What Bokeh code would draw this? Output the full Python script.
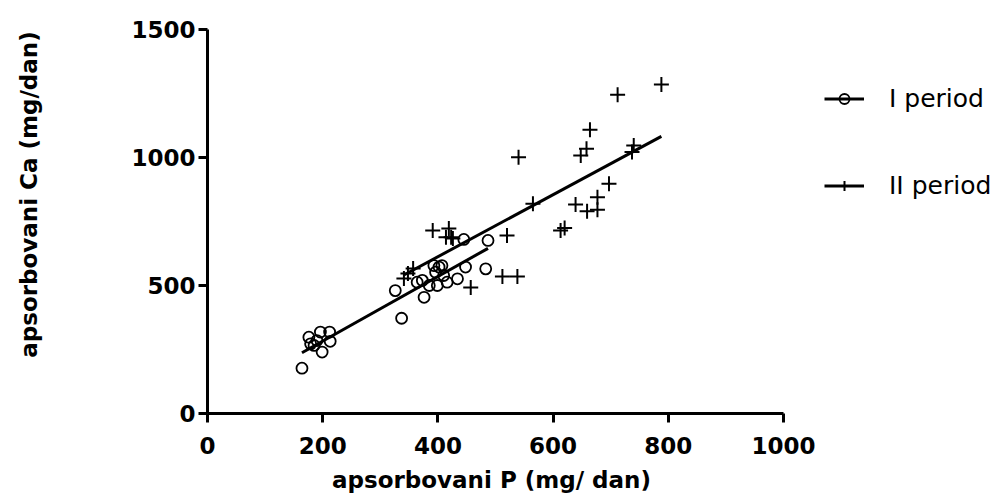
import math
from bokeh.plotting import figure
from bokeh.models import Range1d, Legend, LegendItem, Label, FixedTicker
from bokeh.embed import file_html
from bokeh.resources import INLINE

# Period I (circles)
p1_x = [164, 176, 179, 185, 190, 196, 199, 212, 213,
        326, 337, 364, 373, 376, 385, 393, 396, 399, 402, 407, 410, 416, 434, 445, 448, 483, 487]
p1_y = [177, 298, 272, 266, 285, 318, 240, 318, 282,
        480, 372, 513, 520, 454, 500, 578, 552, 500, 572, 578, 539, 513, 526, 680, 572, 565, 676]

# Period II (crosses)
p2_x = [341, 348, 357, 391, 414, 419, 423, 426, 457, 512, 520, 538, 540, 565, 613, 620,
        639, 648, 658, 659, 664, 677, 677, 697, 712, 737, 740, 788]
p2_y = [527, 547, 566, 715, 688, 723, 688, 684, 492, 535, 695, 535, 1001, 819, 715, 725,
        816, 1008, 1034, 790, 1108, 796, 845, 897, 1245, 1021, 1047, 1285]

# regression lines (slope, intercept)
fit_slope = [1.262, 1.211]
fit_intercept = [30.5, 128.0]

labels = ["I period", "II period"]
x_ticks = [0, 200, 400, 600, 800, 1000]
y_ticks = [0, 500, 1000, 1500]
x_title = "apsorbovani P  (mg/ dan)"
y_title = "apsorbovani Ca  (mg/dan)"

FONT = "DejaVu Sans"

# layout geometry (pixels)
W, H = 993, 500
AX_LEFT, AX_RIGHT, AX_TOP, AX_BOTTOM = 207, 783, 29, 413
px_per_x = (AX_RIGHT - AX_LEFT) / 1000.0
px_per_y = (AX_BOTTOM - AX_TOP) / 1500.0

x_range = Range1d(-AX_LEFT / px_per_x, (W - AX_LEFT) / px_per_x)
y_range = Range1d(-(H - AX_BOTTOM) / px_per_y, AX_BOTTOM / px_per_y)

p = figure(width=W, height=H, output_backend="svg", toolbar_location=None,
           x_range=x_range, y_range=y_range,
           min_border_left=0, min_border_right=0, min_border_top=0, min_border_bottom=0)
p.grid.visible = False
p.outline_line_color = None
p.background_fill_color = "white"
p.border_fill_color = "white"

for ax, ticks in ((p.xaxis, x_ticks), (p.yaxis, y_ticks)):
    ax.ticker = FixedTicker(ticks=ticks)
    ax.bounds = (ticks[0], ticks[-1])
    ax.fixed_location = 0
    ax.axis_line_width = 3
    ax.major_tick_line_width = 3
    ax.major_tick_out = 9
    ax.major_tick_in = 0
    ax.minor_tick_line_color = None
    ax.major_label_text_font = FONT
    ax.major_label_text_font_style = "bold"
    ax.major_label_text_font_size = "23px"
    ax.major_label_text_color = "black"
    ax.axis_line_color = "black"
    ax.major_tick_line_color = "black"

p.xaxis.major_label_standoff = 14
p.yaxis.major_label_standoff = 3
p.xaxis.axis_label = x_title
p.xaxis.axis_label_text_font = FONT
p.xaxis.axis_label_text_font_style = "bold"
p.xaxis.axis_label_text_font_size = "23px"
p.xaxis.axis_label_text_color = "black"
p.xaxis.axis_label_standoff = 10

# fitted lines
def fit_line(xs, k):
    x0, x1 = min(xs), max(xs)
    return [x0, x1], [fit_intercept[k] + fit_slope[k] * x0, fit_intercept[k] + fit_slope[k] * x1]

lx1, ly1 = fit_line(p1_x, 0)
lx2, ly2 = fit_line(p2_x, 1)
r_l1 = p.line(lx1, ly1, line_color="black", line_width=3)
r_l2 = p.line(lx2, ly2, line_color="black", line_width=3)

r_s1 = p.scatter(p1_x, p1_y, marker="circle", size=11, fill_color=None,
                 line_color="black", line_width=1.8)
r_s2 = p.scatter(p2_x, p2_y, marker="cross", size=15,
                 line_color="black", line_width=2)

legend = Legend(items=[LegendItem(label=labels[0], renderers=[r_l1, r_s1]),
                       LegendItem(label=labels[1], renderers=[r_l2, r_s2])],
                location=(824, H - 200), orientation="vertical",
                padding=0, margin=0, spacing=58,
                glyph_width=40, glyph_height=25, label_standoff=25,
                label_text_font=FONT, label_text_font_size="25px",
                label_text_color="black",
                border_line_color=None, background_fill_alpha=0)
p.add_layout(legend, "center")

ylab = Label(x=28, y=H - 190, x_units="screen", y_units="screen", text=y_title,
             angle=math.pi / 2, text_align="center", text_baseline="middle",
             text_font=FONT, text_font_style="bold", text_font_size="23px",
             text_color="black")
p.add_layout(ylab)

open("out.html", "w").write(file_html(p, INLINE))
